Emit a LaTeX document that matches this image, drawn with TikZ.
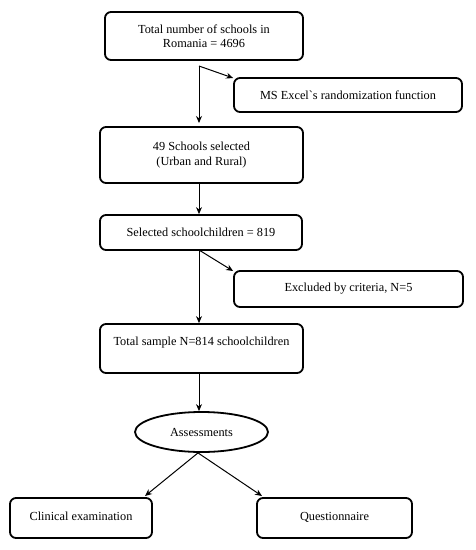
\documentclass[tikz,border=0pt]{standalone}
\usepackage{fontspec}
\setmainfont{Liberation Serif}[Ligatures=TeXOff]
\usetikzlibrary{shapes.geometric,arrows.meta}
\begin{document}
\begin{tikzpicture}[x=1pt,y=-1pt,
  box/.style={draw,line width=1.8pt,rounded corners=6pt,align=center,inner sep=0pt,font=\fontsize{12.3}{14.5}\selectfont},
  ell/.style={draw,ellipse,line width=1.8pt,inner sep=0pt,font=\fontsize{12.3}{14.5}\selectfont},
  arr/.style={-{Stealth[length=7pt,width=6pt]},line width=1pt},
  ln/.style={line width=1pt}]
\useasboundingbox (0,0) rectangle (475,550);
\node[box,minimum width=198pt,minimum height=48pt] (b1) at (204,36) {Total number of schools in\\Romania = 4696};
\node[box,minimum width=228pt,minimum height=34pt] (ex) at (348,95) {MS Excel`s randomization function};
\node[box,minimum width=203pt,minimum height=56pt] (b2) at (201.5,155) {49 Schools selected\\(Urban and Rural)};
\node[box,minimum width=202pt,minimum height=35pt] (b3) at (201,232.5) {Selected schoolchildren = 819};
\node[box,minimum width=229pt,minimum height=36pt] (exc) at (348.5,289) {Excluded by criteria, N=5};
\node[box,minimum width=203pt,minimum height=49pt] (b4) at (201.5,348.5) {Total sample N=814 schoolchildren\\\mbox{}};
\node[ell,minimum width=133pt,minimum height=40pt] (as) at (201.5,432) {Assessments};
\node[box,minimum width=142pt,minimum height=40pt] (cl) at (81,518) {\raisebox{4pt}{Clinical examination}};
\node[box,minimum width=155pt,minimum height=40pt] (qu) at (334.5,518) {\raisebox{4pt}{Questionnaire}};
\coordinate (t1) at (199,66);
\coordinate (t3) at (199,250);
\draw[arr] (t1) -- (199,123);
\draw[arr] (t1) -- (ex.west|-234,78);
\draw[arr] (b2.south-|199,0) -- (b3.north-|199,0);
\draw[arr] (t3) -- (b4.north-|199,0);
\draw[arr] (t3) -- (exc.west|-0,271);
\draw[arr] (b4.south-|199,0) -- (as.north-|199,0);
\draw[arr] (as.south-|198,0) -- (145,496);
\draw[arr] (as.south-|198,0) -- (262,496);
\end{tikzpicture}
\end{document}
